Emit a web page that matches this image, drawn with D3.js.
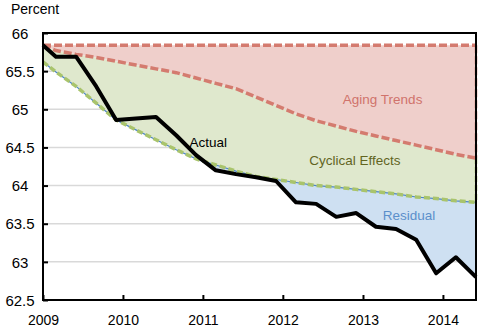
<!DOCTYPE html>
<html lang="en">
  <head>
    <meta charset="utf-8" />
    <title>Labor force participation</title>
    <script src="https://d3js.org/d3.v7.min.js" charset="utf-8"></script>
    <style>
      body { margin: 0; background: #fff; }
      text { font-family: "Liberation Sans", Arial, sans-serif; }
    </style>
  </head>
  <body>
    <div id="chart"></div>
    <script type="text/javascript">
      // observation months (Jan 2009, then quarterly from Mar 2009)
      const months = [
        "2009-01", "2009-03", "2009-06", "2009-09", "2009-12",
        "2010-03", "2010-06", "2010-09", "2010-12",
        "2011-03", "2011-06", "2011-09", "2011-12",
        "2012-03", "2012-06", "2012-09", "2012-12",
        "2013-03", "2013-06", "2013-09", "2013-12",
        "2014-03", "2014-06"
      ];
      const actual = [65.84, 65.69, 65.69, 65.3, 64.86, 64.88, 64.9, 64.66, 64.4,
        64.2, 64.15, 64.11, 64.06, 63.78, 63.76, 63.59, 63.64, 63.46, 63.43,
        63.29, 62.85, 63.06, 62.8];
      const agingStart = [65.84, 65.84, 65.84, 65.84, 65.84, 65.84, 65.84, 65.84,
        65.84, 65.84, 65.84, 65.84, 65.84, 65.84, 65.84, 65.84, 65.84, 65.84,
        65.84, 65.84, 65.84, 65.84, 65.84];
      const agingTrend = [65.84, 65.77, 65.72, 65.68, 65.63, 65.58, 65.53, 65.48,
        65.41, 65.34, 65.27, 65.16, 65.05, 64.94, 64.85, 64.78, 64.71, 64.65,
        64.59, 64.53, 64.47, 64.41, 64.36];
      const cyclicalTrend = [65.62, 65.49, 65.3, 65.08, 64.86, 64.73, 64.6, 64.47,
        64.35, 64.27, 64.19, 64.12, 64.08, 64.04, 64.0, 63.98, 63.95, 63.92,
        63.89, 63.85, 63.83, 63.8, 63.78];
      const yTicks = [62.5, 63, 63.5, 64, 64.5, 65, 65.5, 66];
      const xTicks = [2009, 2010, 2011, 2012, 2013, 2014];

      const cW = 486, cH = 329;
      const pLeft = 43, pRight = 476, pTop = 33, pBottom = 300;

      const parse = d3.timeParse("%Y-%m");
      const dates = months.map(parse);
      const rows = dates.map((d, i) => ({
        date: d,
        actual: actual[i],
        start: agingStart[i],
        aging: agingTrend[i],
        cyc: cyclicalTrend[i]
      }));

      const x = d3.scaleTime()
        .domain([dates[0], dates[dates.length - 1]])
        .range([pLeft, pRight]);
      const y = d3.scaleLinear().domain([62.5, 66]).range([pBottom, pTop]);

      const svg = d3.select("#chart").append("svg")
        .attr("width", cW).attr("height", cH);

      // gridlines
      svg.append("g").selectAll("line")
        .data(yTicks.slice(1, -1))
        .enter().append("line")
        .attr("x1", pLeft).attr("x2", pRight)
        .attr("y1", d => y(d)).attr("y2", d => y(d))
        .attr("stroke", "#d9d9d9").attr("stroke-width", 1.5);

      // areas
      svg.append("path").datum(rows)
        .attr("fill", "#cee0f2")
        .attr("d", d3.area().x(d => x(d.date))
          .y0(d => y(d.cyc)).y1(d => y(Math.min(d.actual, d.cyc))));
      svg.append("path").datum(rows)
        .attr("fill", "#dfe8cd")
        .attr("d", d3.area().x(d => x(d.date))
          .y0(d => y(d.aging)).y1(d => y(d.cyc)));
      svg.append("path").datum(rows)
        .attr("fill", "#efcfcb")
        .attr("d", d3.area().x(d => x(d.date))
          .y0(d => y(d.start)).y1(d => y(d.aging)));

      const line = key => d3.line().x(d => x(d.date)).y(d => y(d[key]));
      const last = rows[rows.length - 1];

      // outlines
      svg.append("path").datum(rows)
        .attr("fill", "none").attr("stroke", "#4f86c6").attr("stroke-width", 1.2)
        .attr("d", line("cyc"));
      svg.append("line")
        .attr("x1", x(last.date)).attr("x2", x(last.date))
        .attr("y1", y(last.cyc)).attr("y2", y(last.actual))
        .attr("stroke", "#4f86c6").attr("stroke-width", 1.5)
        .attr("stroke-dasharray", "3,3");
      svg.append("path").datum(rows)
        .attr("fill", "none").attr("stroke", "#a9c46c").attr("stroke-width", 3.5)
        .attr("stroke-dasharray", "6,3")
        .attr("d", line("cyc"));
      svg.append("line")
        .attr("x1", x(last.date)).attr("x2", x(last.date))
        .attr("y1", y(last.aging)).attr("y2", y(last.cyc))
        .attr("stroke", "#a9c46c").attr("stroke-width", 2.5)
        .attr("stroke-dasharray", "6,3");
      svg.append("path").datum(rows)
        .attr("fill", "none").attr("stroke", "#d47b6f").attr("stroke-width", 3.5)
        .attr("stroke-dasharray", "8,3")
        .attr("d", line("aging"));
      svg.append("path").datum(rows)
        .attr("fill", "none").attr("stroke", "#d47b6f").attr("stroke-width", 3.5)
        .attr("stroke-dasharray", "8,3")
        .attr("d", line("start"));
      svg.append("line")
        .attr("x1", x(last.date)).attr("x2", x(last.date))
        .attr("y1", y(last.start)).attr("y2", y(last.aging))
        .attr("stroke", "#d47b6f").attr("stroke-width", 2.5)
        .attr("stroke-dasharray", "8,3");

      // frame
      svg.append("rect")
        .attr("x", pLeft).attr("y", pTop)
        .attr("width", pRight - pLeft).attr("height", pBottom - pTop)
        .attr("fill", "none").attr("stroke", "#000").attr("stroke-width", 2);

      // actual
      svg.append("path").datum(rows)
        .attr("fill", "none").attr("stroke", "#000").attr("stroke-width", 4)
        .attr("stroke-linejoin", "round")
        .attr("d", line("actual"));

      // axes
      const yAxis = svg.append("g")
        .attr("transform", `translate(${pLeft},0)`)
        .call(d3.axisLeft(y).tickValues(yTicks).tickSize(-5).tickFormat(d3.format("")));
      yAxis.select(".domain").remove();
      yAxis.selectAll("line").attr("stroke", "#000").attr("stroke-width", 2);
      yAxis.selectAll("text")
        .attr("x", -23).attr("dy", "0.35em")
        .attr("text-anchor", "middle")
        .style("font-size", "15px").attr("fill", "#000");

      const xAxis = svg.append("g")
        .attr("transform", `translate(0,${pBottom})`)
        .call(d3.axisBottom(x)
          .tickValues(xTicks.map(yr => new Date(yr, 0, 1)))
          .tickSize(-5).tickPadding(15)
          .tickFormat(d3.timeFormat("%Y")));
      xAxis.select(".domain").remove();
      xAxis.selectAll("line").attr("stroke", "#000").attr("stroke-width", 2);
      xAxis.selectAll("text").style("font-size", "14px").attr("fill", "#000");

      svg.append("text")
        .attr("x", 11).attr("y", 14)
        .style("font-size", "14px")
        .text("Percent");

      // series labels
      const labels = [
        { text: "Aging Trends", date: "2012-10", value: 65.135, color: "#d0736b" },
        { text: "Cyclical Effects", date: "2012-05", value: 64.335, color: "#62651f" },
        { text: "Residual", date: "2013-04", value: 63.615, color: "#5b8fcb" },
        { text: "Actual", date: "2010-11", value: 64.57, color: "#000" }
      ];
      svg.append("g").selectAll("text")
        .data(labels)
        .enter().append("text")
        .attr("x", d => x(parse(d.date)))
        .attr("y", d => y(d.value))
        .attr("dy", "0.35em")
        .attr("fill", d => d.color)
        .style("font-size", "13.5px")
        .text(d => d.text);
    </script>
  </body>
</html>
